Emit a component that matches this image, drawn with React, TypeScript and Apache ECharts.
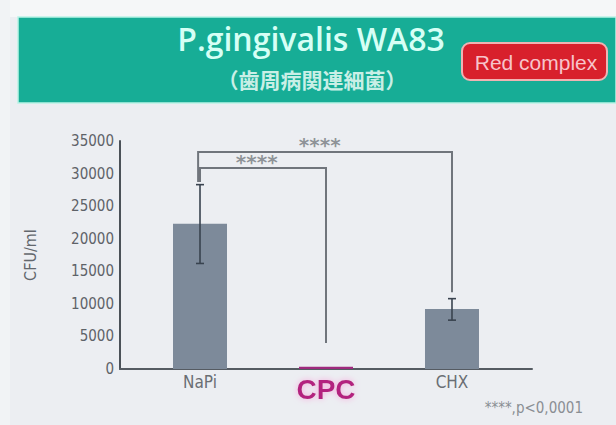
import React, { useEffect, useRef } from "react";
import * as echarts from "echarts";

const categories = ["NaPi", "CPC", "CHX"];
const meanValues = [22300, 350, 9200];
const errLow = [16200, 350, 7500];
const errHigh = [28300, 350, 10800];
const barColors = ["#7d8a9a", "#9e2a7e", "#7d8a9a"];
const yTicks = { min: 0, max: 35000, interval: 5000 };
// significance brackets: [x, y] in data space
const bracketInner = [[0, 28700], [0, 30850], [1, 30850], [1, 4000]];
const bracketOuter = [[-0.015, 28700], [-0.015, 33300], [2, 33300], [2, 11800]];
const starMarks = [[0.45, 31800], [0.95, 34400]];
const starText = "****";
const footnote = "****,p<0,0001";
const titleText = "P.gingivalis WA83";
const subtitleText = "（歯周病関連細菌）";
const badgeText = "Red complex";
const yName = "CFU/ml";

export default function App() {
  const ref = useRef<HTMLDivElement>(null);
  useEffect(() => {
    if (!ref.current) return;
    const chart = echarts.init(ref.current, null, { renderer: "svg" });
    const brackets = [bracketInner, bracketOuter];
    const option: any = {
      animation: false,
      backgroundColor: "#eceef2",
      grid: { left: 120, right: 84, top: 141, bottom: 56 },
      xAxis: {
        type: "value",
        min: -0.635,
        max: 2.635,
        splitLine: { show: false },
        axisLine: { show: true, onZero: false, lineStyle: { color: "#555b62", width: 2 } },
        axisTick: { show: false },
        axisLabel: {
          customValues: [0, 1, 2],
          margin: 4,
          formatter: (v: number) => {
            const i = Math.round(v);
            const name = categories[i];
            return i === 1 ? `{cpc|${name}}` : `{n|${name}}`;
          },
          rich: {
            n: { fontSize: 17, color: "#6a6e74", fontFamily: "DejaVu Sans Condensed" },
            cpc: {
              fontSize: 28,
              fontWeight: "bold",
              color: "#b3247f",
              fontFamily: "Liberation Sans",
              textShadowColor: "#f7a8dc",
              textShadowBlur: 6,
              padding: [2, 0, 0, 0],
            },
          },
        },
      },
      yAxis: {
        type: "value",
        min: yTicks.min,
        max: yTicks.max,
        interval: yTicks.interval,
        name: yName,
        nameLocation: "middle",
        nameGap: 82,
        nameTextStyle: { fontSize: 16, color: "#63676d", fontFamily: "DejaVu Sans Condensed" },
        splitLine: { show: false },
        axisLine: { show: true, onZero: false, lineStyle: { color: "#4b5158", width: 2 } },
        axisTick: { show: false },
        axisLabel: {
          fontSize: 15,
          color: "#5e6268",
          fontFamily: "DejaVu Sans Condensed",
          margin: 6,
          formatter: (v: number) => String(v),
        },
      },
      graphic: [
        { type: "rect", shape: { x: 0, y: 0, width: 616, height: 17 }, style: { fill: "#f5f7f8" }, z: -1 },
        { type: "rect", shape: { x: 0, y: 0, width: 10, height: 425 }, style: { fill: "#f1f3f5" }, z: -1 },
        { type: "rect", shape: { x: 18, y: 17, width: 598, height: 86 }, style: { fill: "#17ad96", stroke: "#b9f3e6", lineWidth: 1.5 } },
        {
          type: "text",
          x: 311,
          y: 54,
          style: { text: titleText, fill: "#d6fff5", font: "600 32px 'Open Sans'", textAlign: "center", textVerticalAlign: "bottom" },
        },
        {
          type: "text",
          x: 312,
          y: 79,
          style: { text: subtitleText, fill: "#c9efe6", font: "bold 21px 'Noto Sans CJK JP'", textAlign: "center", textVerticalAlign: "middle" },
        },
        {
          type: "rect",
          shape: { x: 462, y: 43, width: 145, height: 37, r: 8 },
          style: { fill: "#d8202c", stroke: "#f0b3b3", lineWidth: 2 },
        },
        {
          type: "text",
          x: 536,
          y: 62,
          style: { text: badgeText, fill: "#f7c4ca", font: "21px 'Liberation Sans'", textAlign: "center", textVerticalAlign: "middle" },
        },
        {
          type: "text",
          x: 583,
          y: 408,
          style: { text: footnote, fill: "#8a8e94", font: "15px 'DejaVu Sans Condensed'", textAlign: "right", textVerticalAlign: "middle" },
        },
      ],
      series: [
        {
          type: "bar",
          barWidth: 54,
          data: meanValues.map((v, i) => ({ value: [i, v], itemStyle: { color: barColors[i] } })),
          z: 2,
        },
        {
          type: "custom",
          z: 3,
          data: categories.map((_, i) => [i, errLow[i], errHigh[i]]),
          renderItem: (params: any, api: any) => {
            const i = params.dataIndex;
            if (errLow[i] === errHigh[i]) return null;
            const lo = api.coord([i, errLow[i]]);
            const hi = api.coord([i, errHigh[i]]);
            const hw = 4;
            const st = { stroke: "#39434f", lineWidth: 1.6 };
            return {
              type: "group",
              children: [
                { type: "line", shape: { x1: lo[0], y1: lo[1], x2: hi[0], y2: hi[1] }, style: st },
                { type: "line", shape: { x1: hi[0] - hw, y1: hi[1], x2: hi[0] + hw, y2: hi[1] }, style: st },
                { type: "line", shape: { x1: lo[0] - hw, y1: lo[1], x2: lo[0] + hw, y2: lo[1] }, style: st },
              ],
            };
          },
        },
        {
          type: "custom",
          z: 4,
          data: brackets.map((_, i) => [i, 0]),
          renderItem: (params: any, api: any) => {
            const pts = brackets[params.dataIndex].map((p) => api.coord(p));
            return {
              type: "polyline",
              shape: { points: pts },
              style: { stroke: "#70757c", lineWidth: 2, fill: "none" },
            };
          },
        },
        {
          type: "scatter",
          data: starMarks,
          symbolSize: 0,
          label: {
            show: true,
            position: "inside",
            formatter: () => starText,
            color: "#767a80",
            fontSize: 20,
            fontWeight: "bold",
            fontFamily: "DejaVu Sans",
          },
          z: 5,
        },
      ],
    };
    chart.setOption(option);
    return () => chart.dispose();
  }, []);
  return <div ref={ref} style={{ position: "absolute", left: 0, top: 0, width: 616, height: 425 }} />;
}
